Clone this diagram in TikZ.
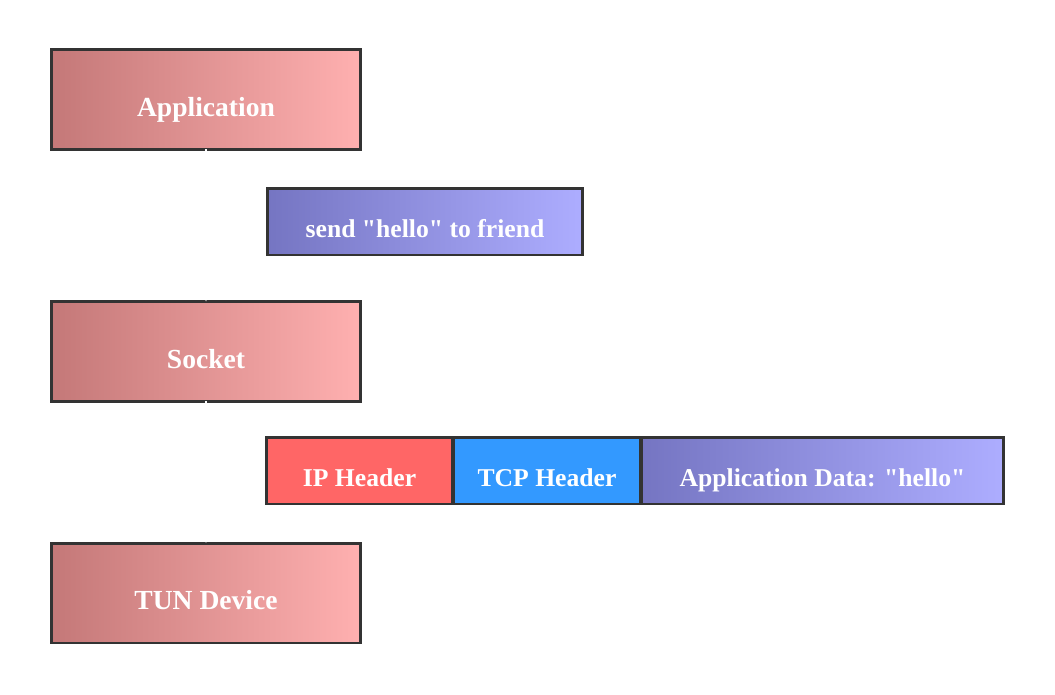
\documentclass[tikz,border=0pt]{standalone}
\usepackage{fontspec}
\setmainfont{Liberation Serif}
\usepackage{xcolor}
\usetikzlibrary{arrows.meta,positioning}

\definecolor{boxline}{HTML}{333333}
\definecolor{layerL}{HTML}{C47878}
\definecolor{layerR}{HTML}{FFB0B0}
\definecolor{dataL}{HTML}{7575C2}
\definecolor{dataR}{HTML}{ADADFF}
\definecolor{ipred}{HTML}{FF6666}
\definecolor{tcpblue}{HTML}{3399FF}

\tikzset{
    layerbox/.style={draw=boxline, line width=1.7pt, left color=layerL, right color=layerR,
        minimum width=6.2cm, minimum height=2cm, inner sep=0pt, outer sep=0pt,
        text=white, font=\fontsize{15.7}{18}\selectfont\bfseries,
        text height=23.5pt, text depth=4.7pt},
    databox/.style={draw=boxline, line width=1.7pt, minimum height=1.34cm,
        inner sep=0pt, outer sep=0pt, text=white, font=\fontsize{14.6}{17}\selectfont\bfseries,
        text height=23pt, text depth=4.7pt},
    flow/.style={white, line width=0.6pt, -{Stealth[length=4pt]}}
}

\begin{document}
\begin{tikzpicture}[x=0.02cm, y=-0.02cm]
    % Canvas
    \useasboundingbox[fill=white] (0,0) rectangle (1055,694);

    % Layers
    \node[layerbox] (app) at (206, 99.5) {Application};
    \node[layerbox] (sock) at (206, 351.5) {Socket};
    \node[layerbox] (tun) at (206, 593) {TUN Device};

    % Message handed to the socket
    \node[databox, left color=dataL, right color=dataR, minimum width=6.3cm] (msg) at (425, 221.5) {send \textquotedbl hello\textquotedbl{} to friend};

    % Packet handed to the TUN device
    \node[databox, fill=ipred, minimum width=3.74cm] (ip) at (359.5, 470.5) {IP Header};
    \node[databox, fill=tcpblue, minimum width=3.76cm] (tcp) at (547, 470.5) {TCP Header};
    \node[databox, left color=dataL, right color=dataR, minimum width=7.26cm] (payload) at (822.5, 470.5) {Application Data: \textquotedbl hello\textquotedbl};

    % Flow between layers (white, as in the original)
    \draw[flow] (app.south) -- (sock.north);
    \draw[flow] (sock.south) -- (tun.north);
\end{tikzpicture}
\end{document}
